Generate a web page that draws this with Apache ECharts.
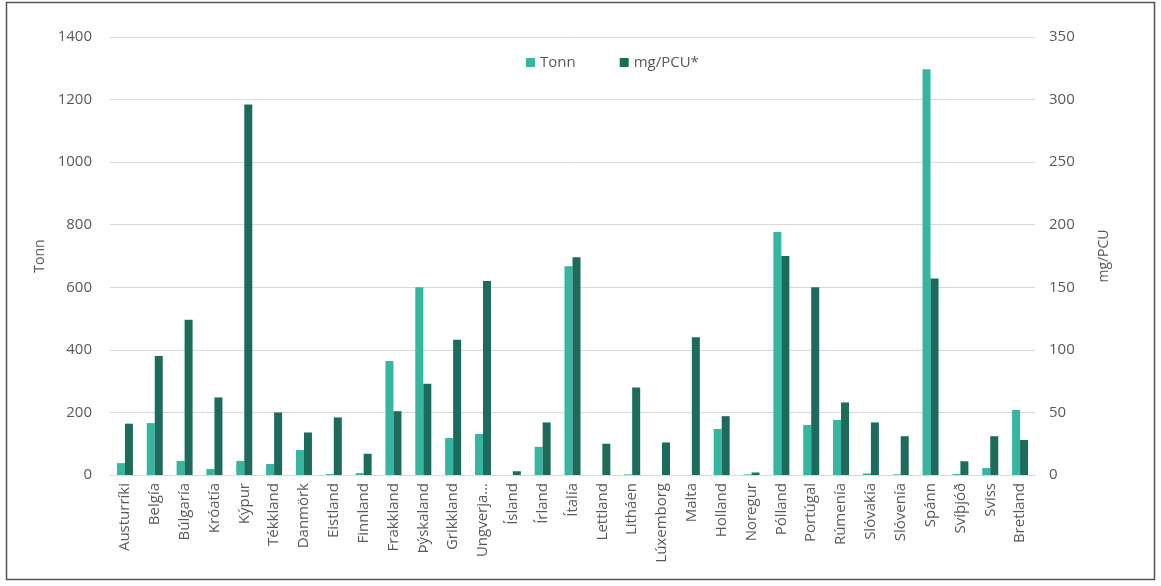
<!DOCTYPE html>
<html>
<head>
<meta charset="utf-8">
<script src="https://cdn.jsdelivr.net/npm/echarts@6/dist/echarts.min.js"></script>
<style>
html,body{margin:0;padding:0;background:#fff;}
#chart{width:1161px;height:586px;}
</style>
</head>
<body>
<div id="chart"></div>
<script>
const categories = ["Austurríki","Belgía","Búlgaría","Króatía","Kýpur","Tékkland","Danmörk","Eistland","Finnland","Frakkland","Þýskaland","Grikkland","Ungverja…","Ísland","Írland","Ítalía","Lettland","Litháen","Lúxemborg","Malta","Holland","Noregur","Pólland","Portúgal","Rúmenía","Slóvakía","Slóvenía","Spánn","Svíþjóð","Sviss","Bretland"];
const tonn = [38,166,45,19,45,35,80,3,6,364,600,118,131,0,90,667,0,2,0,0,147,2,777,160,176,5,2,1297,3,22,208];
const mgPCU = [41,95,124,62,296,50,34,46,17,51,73,108,155,3,42,174,25,70,26,110,47,2,175,150,58,42,31,157,11,31,28];
const leftTicks = {min:0, max:1400, interval:200};
const rightTicks = {min:0, max:350, interval:50};

const chart = echarts.init(document.getElementById('chart'));
const font = "'Open Sans', 'Liberation Sans', sans-serif";
const txt = '#595959';
chart.setOption({
  backgroundColor:'#fff',
  animation:false,
  textStyle:{fontFamily:font},
  graphic:[{type:'rect', shape:{x:6.5,y:2.5,width:1148,height:577}, style:{fill:'none', stroke:'#555', lineWidth:1.5}, silent:true}],
  legend:{
    top:50, left:521, itemWidth:9, itemHeight:9, itemGap:44,
    textStyle:{color:txt, fontSize:15, fontFamily:font},
    icon:'rect',
    data:['Tonn','mg/PCU*']
  },
  grid:{left:110, right:126, top:37, bottom:111, containLabel:false},
  xAxis:{
    type:'category', data:categories,
    axisLine:{lineStyle:{color:'#d9d9d9'}},
    axisTick:{show:false},
    axisLabel:{rotate:90, color:txt, fontSize:15, fontFamily:font, interval:0, margin:8}
  },
  yAxis:[
    {type:'value', name:'Tonn', nameLocation:'middle', nameGap:57, nameTextStyle:{color:txt, fontSize:14, fontFamily:font},
     min:leftTicks.min, max:leftTicks.max, interval:leftTicks.interval,
     axisLabel:{color:txt, fontSize:15, margin:18, fontFamily:font, formatter:v=>String(v)},
     axisLine:{show:false}, axisTick:{show:false},
     splitLine:{lineStyle:{color:'#d9d9d9'}}},
    {type:'value', name:'mg/PCU', nameLocation:'middle', nameGap:62, nameRotate:90, nameTextStyle:{color:txt, fontSize:14, fontFamily:font},
     min:rightTicks.min, max:rightTicks.max, interval:rightTicks.interval,
     axisLabel:{color:txt, fontSize:15, margin:14, fontFamily:font},
     axisLine:{show:false}, axisTick:{show:false},
     splitLine:{show:false}}
  ],
  series:[
    {name:'Tonn', type:'bar', yAxisIndex:0, data:tonn, barWidth:8, barGap:'0%', itemStyle:{color:'#36B5A0'}},
    {name:'mg/PCU*', type:'bar', yAxisIndex:1, data:mgPCU, barWidth:8, barGap:'0%', itemStyle:{color:'#1C6B5D'}}
  ]
});
</script>
</body>
</html>
